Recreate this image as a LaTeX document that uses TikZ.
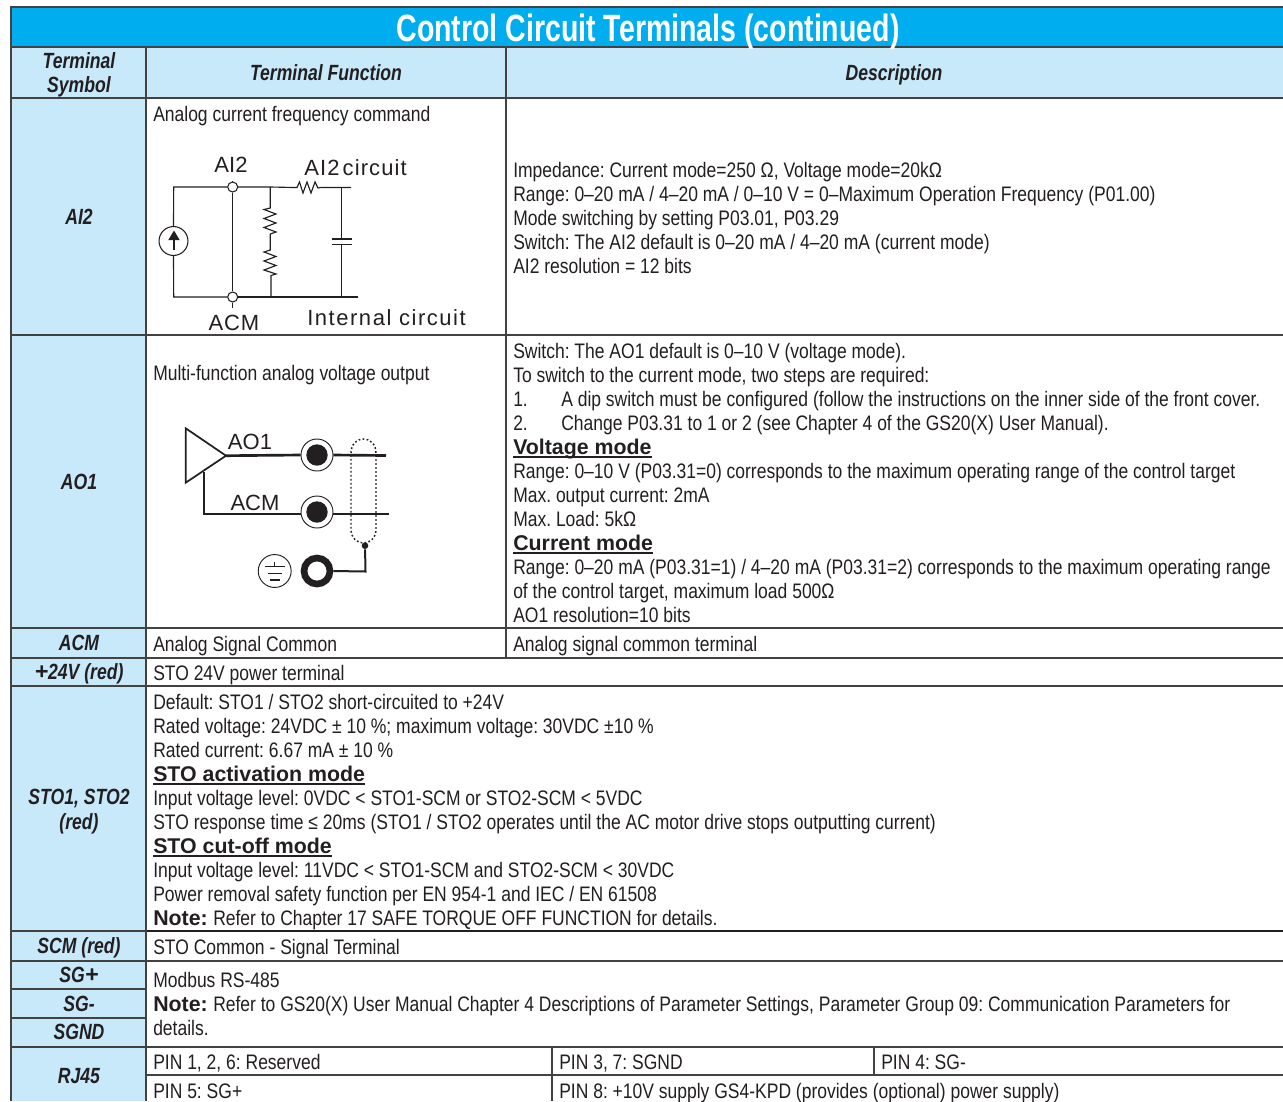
\documentclass[tikz,border=0pt]{standalone}
\usepackage{fontspec}
\setmainfont[FakeStretch=0.833]{Liberation Sans}
\newfontfamily\wideboldfont{Liberation Sans}
\newfontfamily\titlefont[FakeStretch=0.75]{Liberation Sans}
\newfontfamily\headfont[FakeStretch=0.80]{Liberation Sans}
\newfontfamily\circfont[LetterSpace=7]{Liberation Sans}
\newfontfamily\circacm[LetterSpace=4]{Liberation Sans}
\newfontfamily\circplain{Liberation Sans}
\newfontfamily\circspaced[LetterSpace=5]{Liberation Sans}
\definecolor{band}{HTML}{00AEEF}
\definecolor{pale}{HTML}{C7E9FA}
\definecolor{ink}{HTML}{231F20}
\tikzset{
  txt/.style={anchor=base west,inner sep=0pt,text=ink,font=\frenchspacing\fontsize{15.75}{18}\selectfont},
  bld/.style={anchor=base west,inner sep=0pt,text=ink,font=\frenchspacing\wideboldfont\bfseries\fontsize{16}{18}\selectfont},
  hdg/.style={anchor=base,inner sep=0pt,text=ink,font=\headfont\bfseries\itshape\fontsize{16.5}{18}\selectfont},
  circ/.style={anchor=center,inner sep=0pt,text=ink,font=\circfont\fontsize{16.5}{18}\selectfont},
  circb/.style={anchor=center,inner sep=0pt,text=ink,font=\circplain\fontsize{16.5}{18}\selectfont},
  rule/.style={draw=ink!85,line width=0.8pt},
  ulin/.style={draw=ink,line width=1.3pt},
  wire/.style={draw=ink,line width=0.85pt},
  fatwire/.style={draw=ink,line width=2pt},
  term/.style={circle,draw=ink,line width=0.8pt,fill=white,inner sep=0pt,minimum size=7.5pt},
}
\newcommand{\tl}[4]{\node[txt] (#1) at (#2,#3) {#4};}
\newcommand{\hl}[4]{\node[hdg] (#1) at (#2,#3+7.5) {#4};}
\newcommand{\bh}[4]{\node[bld] (#1) at (#2,#3) {#4}; \draw[ulin] ([yshift=-2.2pt]#1.base west) -- ([yshift=-2.2pt]#1.base east);}
\newcommand{\wplus}{{\wideboldfont\bfseries\fontsize{17.5}{18}\selectfont +}}
\begin{document}
\begin{tikzpicture}[x=0.75pt,y=-0.75pt]
\useasboundingbox (0,0) rectangle (1283,1101);
\fill[white] (0,0) rectangle (1283,1101);
% bands
\fill[band] (11,8) rectangle (1283,47);
\fill[pale] (11,47) rectangle (1283,98);
\fill[pale] (11,98) rectangle (146,1101);
% rules
\foreach \y in {47,98,335,628,658,686,961,1047} \draw[rule] (11,\y) -- (1283,\y);
\draw[ink,line width=1.7pt] (146,931) -- (1283,931);
\draw[rule] (11,931) -- (146,931);
\draw[rule] (11,989) -- (146,989);
\draw[rule] (11,1018) -- (146,1018);
\draw[rule] (146,1075) -- (1283,1075);
\draw[rule] (146,47) -- (146,1101);
\draw[rule] (506,47) -- (506,658);
\draw[rule] (552,1047) -- (552,1101);
\draw[rule] (874,1047) -- (874,1075);
% outer frame
\draw[ink!85,line width=2.2pt] (1283,7) -- (11,7) -- (11,1101);
% title and headers
\node[anchor=base,inner sep=0pt,text=white,font=\titlefont\bfseries\fontsize{28.5}{30}\selectfont] (title) at (648,41) {Control Circuit Terminals (continued)};
\hl{hsym1}{79}{61}{Terminal}
\hl{hsym2}{79}{85}{Symbol}
\hl{hfun}{326}{73}{Terminal Function}
\hl{hdes}{894}{73}{Description}
% left labels
\hl{lai}{79}{217}{AI2}
\hl{lao}{79}{482}{AO1}
\hl{lacm}{79}{643}{ACM}
\hl{lp24}{79}{672}{\wplus 24V (red)}
\hl{lsto1}{79}{797}{STO1, STO2}
\hl{lsto2}{79}{822}{(red)}
\hl{lscm}{79}{946}{SCM (red)}
\hl{lsgp}{79}{975}{SG\wplus}
\hl{lsgm}{79}{1004}{SG-}
\hl{lsgnd}{79}{1032}{SGND}
\hl{lrj}{79}{1076}{RJ45}
% AI2
\tl{a0}{153}{121}{Analog current frequency command}
\tl{a1}{513}{177}{Impedance: Current mode=250 Ω, Voltage mode=20kΩ}
\tl{a2}{513}{201}{Range: 0–20 mA / 4–20 mA / 0–10 V = 0–Maximum Operation Frequency (P01.00)}
\tl{a3}{513}{225}{Mode switching by setting P03.01, P03.29}
\tl{a4}{513}{249}{Switch: The AI2 default is 0–20 mA / 4–20 mA (current mode)}
\tl{a5}{513}{273}{AI2 resolution = 12 bits}
% AO1
\tl{b0}{153}{380}{Multi-function analog voltage output}
\tl{b1}{513}{358}{Switch: The AO1 default is 0–10 V (voltage mode).}
\tl{b2}{513}{382}{To switch to the current mode, two steps are required:}
\tl{b3n}{513}{406}{1.}
\tl{b3}{561}{406}{A dip switch must be configured (follow the instructions on the inner side of the front cover.}
\tl{b4n}{513}{430}{2.}
\tl{b4}{561}{430}{Change P03.31 to 1 or 2 (see Chapter 4 of the GS20(X) User Manual).}
\bh{b5}{513}{454}{Voltage mode}
\tl{b6}{513}{478}{Range: 0–10 V (P03.31=0) corresponds to the maximum operating range of the control target}
\tl{b7}{513}{502}{Max. output current: 2mA}
\tl{b8}{513}{526}{Max. Load: 5kΩ}
\bh{b9}{513}{550}{Current mode}
\tl{b10}{513}{574}{Range: 0–20 mA (P03.31=1) / 4–20 mA (P03.31=2) corresponds to the maximum operating range}
\tl{b11}{513}{598}{of the control target, maximum load 500Ω}
\tl{b12}{513}{622}{AO1 resolution=10 bits}
% ACM, +24V
\tl{c1}{153}{651}{Analog Signal Common}
\tl{c2}{513}{651}{Analog signal common terminal}
\tl{d1}{153}{680}{STO 24V power terminal}
% STO
\tl{e1}{153}{709}{Default: STO1 / STO2 short-circuited to +24V}
\tl{e2}{153}{733}{Rated voltage: 24VDC ± 10 \%; maximum voltage: 30VDC ±10 \%}
\tl{e3}{153}{757}{Rated current: 6.67 mA ± 10 \%}
\bh{e4}{153}{781}{STO activation mode}
\tl{e5}{153}{805}{Input voltage level: 0VDC < STO1-SCM or STO2-SCM < 5VDC}
\tl{e6}{153}{829}{STO response time ≤ 20ms (STO1 / STO2 operates until the AC motor drive stops outputting current)}
\bh{e7}{153}{853}{STO cut-off mode}
\tl{e8}{153}{877}{Input voltage level: 11VDC < STO1-SCM and STO2-SCM < 30VDC}
\tl{e9}{153}{901}{Power removal safety function per EN 954-1 and IEC / EN 61508}
\node[bld] (e10a) at (153,925) {Note:};
\tl{e10}{213}{925}{Refer to Chapter 17 SAFE TORQUE OFF FUNCTION for details.}
% SCM, SG
\tl{f1}{153}{954}{STO Common - Signal Terminal}
\tl{g1}{153}{987}{Modbus RS-485}
\node[bld] (g2a) at (153,1011) {Note:};
\tl{g2}{213}{1011}{Refer to GS20(X) User Manual Chapter 4 Descriptions of Parameter Settings, Parameter Group 09: Communication Parameters for}
\tl{g3}{153}{1035}{details.}
% RJ45
\tl{h1}{153}{1069}{PIN 1, 2, 6: Reserved}
\tl{h2}{559}{1069}{PIN 3, 7: SGND}
\tl{h3}{881}{1069}{PIN 4: SG-}
\tl{h4}{153}{1098}{PIN 5: SG+}
\tl{h5}{559}{1098}{PIN 8: +10V supply GS4-KPD (provides (optional) power supply)}
% ---- AI2 circuit
\node[circb] (cai) at (231,165) {AI2};
\node[circb,anchor=west,font=\circspaced\fontsize{16.5}{18}\selectfont] (cci) at (304,168) {AI2\hspace{-3pt} circuit};
\node[circ,font=\circacm\fontsize{16.5}{18}\selectfont] (cacm) at (234,323) {ACM};
\node[circ,anchor=west] (cint) at (307,318) {Internal circuit};
\coordinate (tl) at (173.7,187);
\coordinate (bl) at (173.7,297);
\node[term] (nai) at (232.7,187) {};
\node[term] (nacm) at (232.7,297) {};
\node[circle,draw=ink,line width=0.8pt,inner sep=0pt,minimum size=21.7pt] (src) at (173.5,241) {};
\draw[wire] (src.north) -- (tl) -- (nai.west);
\draw[wire] (src.south) -- (bl) -- (nacm.west);
\draw[wire] (nai.south) -- (nacm.north);
\draw[wire] (232.7,181) -- (nai.north);
\draw[wire] (nacm.south) -- (232.7,308);
\fill[ink] (168.3,240) -- (179.7,240) -- (174,230.5) -- cycle;
\draw[wire] (174,240) -- (174,250);
\coordinate (j1) at (270.3,187);
\coordinate (j2) at (271,297);
\coordinate (j3) at (341.6,187.5);
\coordinate (j4) at (341.6,297);
\draw[wire] (nai.east) -- (j1) -- (294,187.5) -- (297,187.5) -- (299.5,182) -- (303,193) -- (307,182) -- (311,193) -- (315,182) -- (318,188) -- (321,187.5) -- (351,187.5);
\draw[wire] (j1) -- (270.3,208) -- (264,209.5) -- (276,214) -- (264,218.5) -- (276,223) -- (264,227.5) -- (276,232) -- (270.3,234) -- (270.3,250) -- (264,252) -- (276,256.5) -- (264,261) -- (276,265.5) -- (264,270) -- (276,274) -- (271,275.5) -- (j2);
\draw[wire] (nacm.east) -- (357.7,297);
\draw[wire] (j3) -- (341.6,239);
\draw[wire] (341.6,244.7) -- (j4);
\draw[wire] (332,239) -- (352,239);
\draw[wire] (332,244.7) -- (352,244.7);
% ---- AO1 circuit
\node[circb] (cao) at (250,441.5) {AO1};
\node[circb] (cacm2) at (255,502.5) {ACM};
\coordinate (t1) at (185.7,428.3);
\coordinate (t2) at (185.7,482.7);
\coordinate (t3) at (226,455.7);
\draw[ink,line width=1.3pt,line join=miter] (t1) -- (t3) -- (t2) -- cycle;
\node[circle,draw=ink,line width=0.7pt,fill=white,inner sep=0pt,minimum size=24pt] (ao) at (317,455) {};
\fill[ink] (ao) circle (10.7);
\node[circle,draw=ink,line width=0.7pt,fill=white,inner sep=0pt,minimum size=24pt] (ac) at (317,512) {};
\fill[ink] (ac) circle (10.7);
\draw[fatwire] (t3) -- (ao.west);
\draw[fatwire] (ao.east) -- (386,455.5);
\coordinate (acj) at (204.3,514);
\draw[ink,line width=1.3pt] (204.3,472) -- (acj) -- (ac.west |- acj);
\draw[ink,line width=1.3pt] (ac.east |- acj) -- (389,514);
\draw[ink,line width=1.1pt,dash pattern=on 1.3pt off 1.7pt] (351,453) .. controls (351,444) and (357,439) .. (363.5,439) .. controls (370,439) and (376,444) .. (376,453) -- (376,529) .. controls (376,538) and (370,543) .. (363.5,543) .. controls (357,543) and (351,538) .. (351,529) -- cycle;
\node[circle,fill=ink,inner sep=0pt,minimum size=5pt] (dot) at (365,545.7) {};
\node[circle,draw=ink,line width=5pt,fill=white,inner sep=0pt,minimum size=19.5pt] (gt) at (317,571) {};
\coordinate (gj) at (365.5,571.5);
\draw[ink,line width=1.5pt] (dot) -- (gj) -- (gt.east);
\node[circle,draw=ink,line width=0.7pt,inner sep=0pt,minimum size=24.7pt] (gnd) at (274.7,571) {};
\draw[wire] (274.7,561.7) -- (274.7,566.7);
\draw[wire] (265,566.7) -- (285,566.7);
\draw[wire] (267.5,573.3) -- (282,573.3);
\draw[wire] (270,580) -- (279.5,580);
\end{tikzpicture}
\end{document}
